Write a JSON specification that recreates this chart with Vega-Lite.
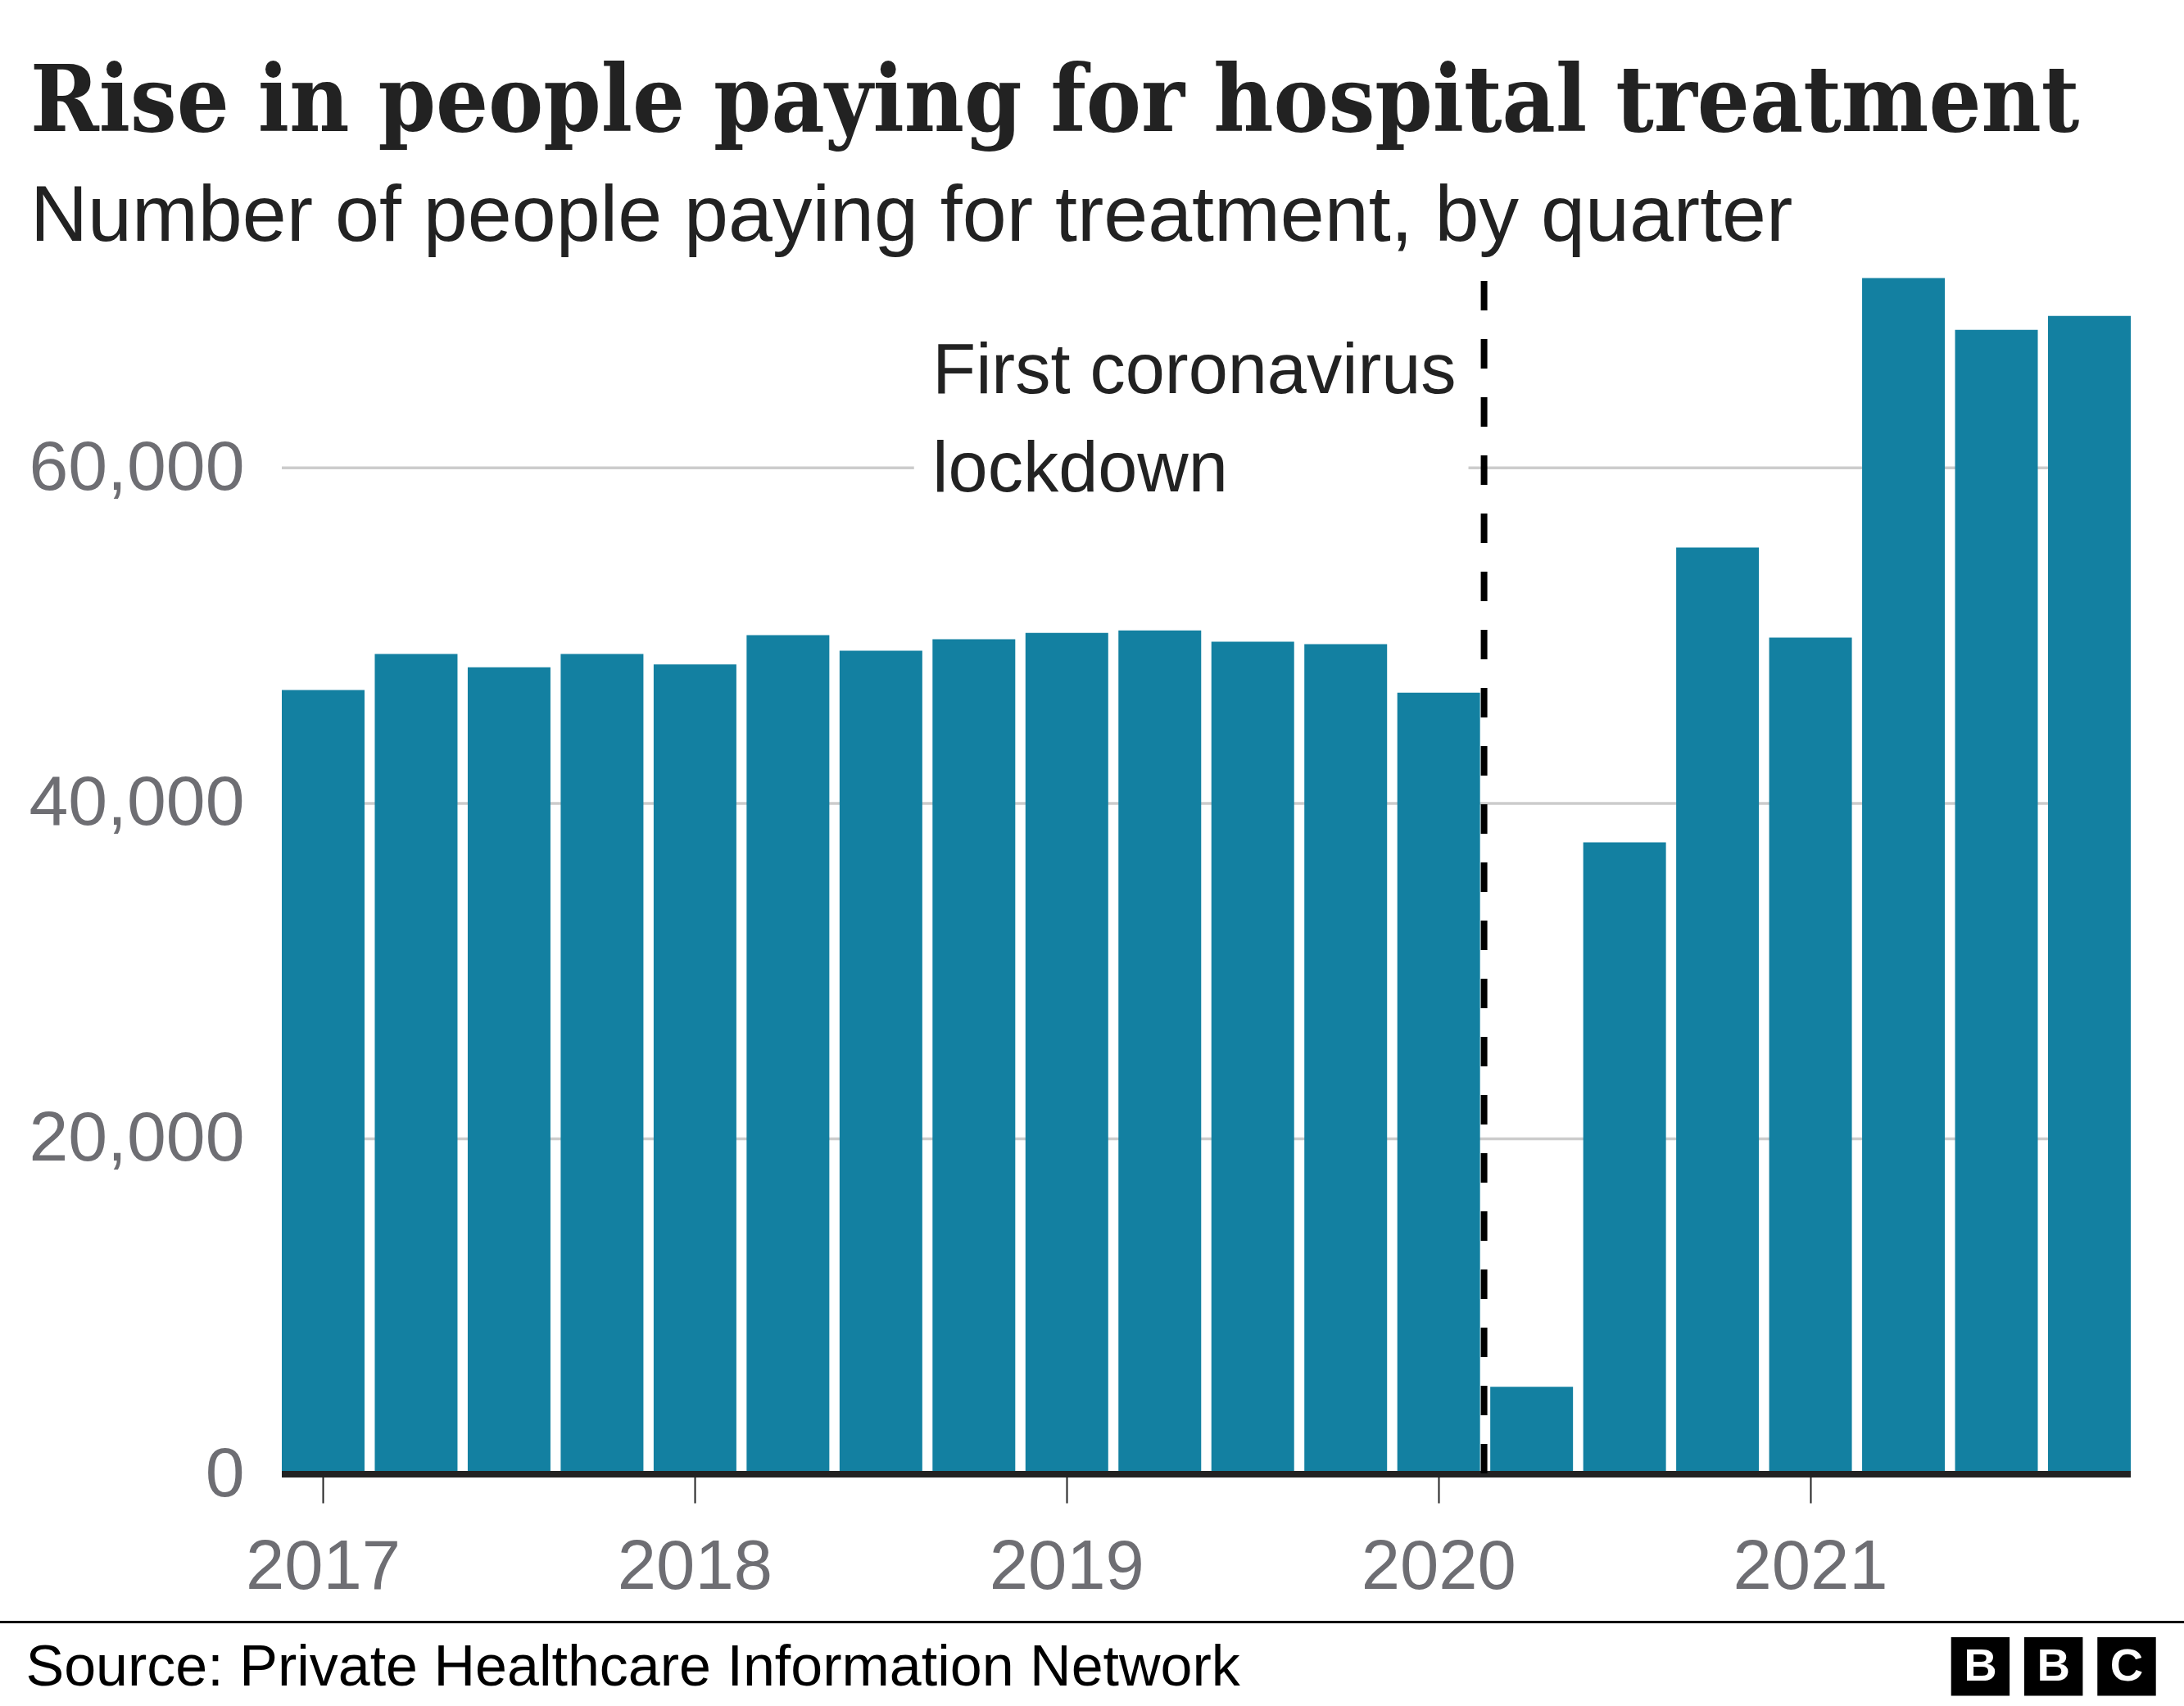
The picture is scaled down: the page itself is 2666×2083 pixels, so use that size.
{
  "$schema": "https://vega.github.io/schema/vega-lite/v6.json",
  "width": 2666,
  "height": 1457,
  "autosize": {"type": "none"},
  "padding": {"left": 0, "right": 0, "top": 343, "bottom": 283},
  "background": "white",
  "config": {"view": {"stroke": null}},
  "title": {
    "text": "Rise in people paying for hospital treatment",
    "subtitle": "Number of people paying for treatment, by quarter",
    "anchor": "start",
    "frame": "group",
    "dx": 37,
    "offset": 24,
    "font": "DejaVu Serif Condensed, DejaVu Serif",
    "fontSize": 112,
    "fontWeight": "bold",
    "color": "#222222",
    "subtitleFont": "Liberation Sans",
    "subtitleFontSize": 97,
    "subtitleColor": "#222222",
    "subtitlePadding": 33
  },
  "datasets": {
    "quarters": [
      {"quarter": "2017 Q1", "value": 46760},
      {"quarter": "2017 Q2", "value": 48910},
      {"quarter": "2017 Q3", "value": 48110},
      {"quarter": "2017 Q4", "value": 48910},
      {"quarter": "2018 Q1", "value": 48280},
      {"quarter": "2018 Q2", "value": 50030},
      {"quarter": "2018 Q3", "value": 49100},
      {"quarter": "2018 Q4", "value": 49790},
      {"quarter": "2019 Q1", "value": 50170},
      {"quarter": "2019 Q2", "value": 50310},
      {"quarter": "2019 Q3", "value": 49640},
      {"quarter": "2019 Q4", "value": 49490},
      {"quarter": "2020 Q1", "value": 46600},
      {"quarter": "2020 Q2", "value": 5210},
      {"quarter": "2020 Q3", "value": 37670},
      {"quarter": "2020 Q4", "value": 55250},
      {"quarter": "2021 Q1", "value": 49880},
      {"quarter": "2021 Q2", "value": 71320},
      {"quarter": "2021 Q3", "value": 68230},
      {"quarter": "2021 Q4", "value": 69060}
    ],
    "grid": [{"v": 20000}, {"v": 40000}, {"v": 60000}],
    "note": [{"quarter": "2018 Q4", "value": 64460, "label": ["First coronavirus", "lockdown"]}],
    "logo": [{"k": "B1", "t": "B"}, {"k": "B2", "t": "B"}, {"k": "C", "t": "C"}]
  },
  "layer": [
    {
      "layer": [
        {
          "data": {"name": "grid"},
          "mark": {"type": "rule", "color": "#cccccc", "strokeWidth": 3.5},
          "encoding": {
            "y": {"field": "v", "type": "quantitative"},
            "x": {"datum": "2017 Q1", "type": "ordinal", "bandPosition": 0},
            "x2": {"datum": "2021 Q4", "bandPosition": 1}
          }
        },
        {
          "data": {"values": [{"a": "2018 Q3", "b": "2020 Q1", "lo": 52000, "hi": 68000}]},
          "mark": {"type": "rect", "color": "white"},
          "encoding": {
            "x": {"field": "a", "type": "ordinal", "bandPosition": 0.9},
            "x2": {"field": "b", "bandPosition": 0.86},
            "y": {"field": "lo", "type": "quantitative"},
            "y2": {"field": "hi"}
          }
        },
        {
          "data": {"name": "quarters"},
          "mark": {"type": "bar", "color": "#1380a1"},
          "encoding": {
            "x": {
              "field": "quarter",
              "type": "ordinal",
              "scale": {
                "domain": ["2017 Q1","2017 Q2","2017 Q3","2017 Q4","2018 Q1","2018 Q2","2018 Q3","2018 Q4","2019 Q1","2019 Q2","2019 Q3","2019 Q4","2020 Q1","2020 Q2","2020 Q3","2020 Q4","2021 Q1","2021 Q2","2021 Q3","2021 Q4"],
                "range": [344, 2601],
                "paddingInner": 0.11,
                "paddingOuter": 0
              },
              "axis": {
                "title": "Source: Private Healthcare Information Network",
                "titleAnchor": "start",
                "titleAlign": "left",
                "titleBaseline": "alphabetic",
                "titleX": 31,
                "titleY": 257,
                "titleFont": "Liberation Sans",
                "titleFontSize": 70,
                "titleFontWeight": "normal",
                "titleColor": "#000000",
                "titleLimit": 3000,
                "values": ["2017 Q1", "2018 Q1", "2019 Q1", "2020 Q1", "2021 Q1"],
                "labelExpr": "substring(datum.label, 0, 4)",
                "bandPosition": 0.5,
                "domain": false,
                "grid": false,
                "ticks": true,
                "tickSize": 35,
                "tickWidth": 2,
                "tickColor": "#222222",
                "labelAngle": 0,
                "labelAlign": "center",
                "labelBaseline": "alphabetic",
                "labelPadding": 104,
                "labelLimit": 1000,
                "labelFont": "Liberation Sans",
                "labelFontSize": 85,
                "labelColor": "#6e6e73"
              }
            },
            "y": {
              "field": "value",
              "type": "quantitative",
              "scale": {"domain": [0, 71150], "nice": false, "zero": true},
              "axis": {
                "title": null,
                "values": [0, 20000, 40000, 60000],
                "format": ",d",
                "offset": -344,
                "domain": false,
                "ticks": false,
                "tickSize": 0,
                "grid": false,
                "labelPadding": 46,
                "labelLimit": 1000,
                "labelBaseline": "middle",
                "labelFont": "Liberation Sans",
                "labelFontSize": 86,
                "labelColor": "#6e6e73"
              }
            }
          }
        },
        {
          "data": {"values": [{"z": 0}]},
          "mark": {"type": "rule", "color": "#222222", "strokeWidth": 8},
          "encoding": {
            "y": {"field": "z", "type": "quantitative"},
            "x": {"datum": "2017 Q1", "type": "ordinal", "bandPosition": 0},
            "x2": {"datum": "2021 Q4", "bandPosition": 1}
          }
        },
        {
          "data": {"values": [{"q": "2020 Q2"}]},
          "mark": {"type": "rule", "color": "#000000", "strokeWidth": 8, "strokeDash": [36, 35]},
          "encoding": {
            "x": {"field": "q", "type": "ordinal", "bandPosition": -0.075}
          }
        },
        {
          "data": {"name": "note"},
          "mark": {"type": "text", "align": "left", "baseline": "alphabetic", "font": "Liberation Sans", "fontSize": 86.5, "lineHeight": 120, "color": "#222222"},
          "encoding": {
            "x": {"field": "quarter", "type": "ordinal", "bandPosition": 0},
            "y": {"field": "value", "type": "quantitative"},
            "text": {"field": "label"}
          }
        },
        {
          "data": {"values": [{"s": -8814}]},
          "mark": {"type": "rule", "color": "#000000", "strokeWidth": 3},
          "encoding": {
            "y": {"field": "s", "type": "quantitative"}
          }
        }
      ]
    },
    {
      "data": {"name": "logo"},
      "layer": [
        {
          "mark": {"type": "rect", "color": "#000000"},
          "encoding": {
            "x": {
              "field": "k",
              "type": "ordinal",
              "sort": null,
              "scale": {"range": [2381.7, 2631.7], "paddingInner": 0.2, "paddingOuter": 0},
              "axis": null
            },
            "y": {"datum": -9718, "type": "quantitative"},
            "y2": {"datum": -13210}
          }
        },
        {
          "mark": {"type": "text", "color": "white", "font": "Liberation Sans", "fontWeight": "bold", "fontSize": 56, "baseline": "middle", "align": "center"},
          "encoding": {
            "x": {"field": "k", "type": "ordinal", "sort": null, "axis": null},
            "y": {"datum": -11464, "type": "quantitative"},
            "text": {"field": "t"}
          }
        }
      ]
    }
  ],
  "resolve": {"scale": {"x": "independent"}, "axis": {"x": "independent"}}
}
